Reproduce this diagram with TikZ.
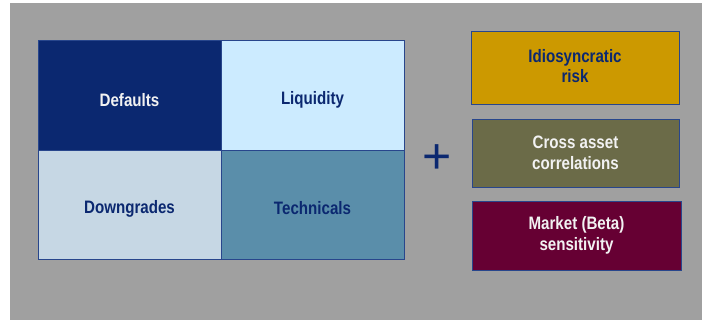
\documentclass[tikz,border=0pt]{standalone}
\usepackage{fontspec}
\setmainfont{Liberation Sans}[FakeStretch=0.84]
\newfontfamily\plusfont{Liberation Sans}
\definecolor{bggray}{RGB}{160,160,160}
\definecolor{navy}{RGB}{11,40,112}
\definecolor{edge}{RGB}{40,70,140}
\definecolor{liqblue}{RGB}{204,235,255}
\definecolor{dgblue}{RGB}{198,215,228}
\definecolor{techblue}{RGB}{90,142,170}
\definecolor{gold}{RGB}{204,153,0}
\definecolor{olive}{RGB}{107,107,72}
\definecolor{wine}{RGB}{102,0,51}
\definecolor{paletext}{RGB}{242,242,242}
\begin{document}
\begin{tikzpicture}[x=1pt,y=-1pt,
  cell/.style={draw=edge, line width=0.9pt, inner sep=0pt},
  lbl/.style={font=\fontsize{18}{20.5}\selectfont\bfseries, align=center, inner sep=0pt},
  darklbl/.style={lbl, text=paletext},
  navylbl/.style={lbl, text=navy}]
  \useasboundingbox (0,0) rectangle (702,320);
  % backdrop
  \fill[bggray] (10,3) rectangle (702,320);

  % 2x2 grid of risk drivers
  \node[cell, fill=navy, minimum width=183pt, minimum height=110pt] (defaults) at (129.5,95) {};
  \node[cell, fill=liqblue, minimum width=183pt, minimum height=110pt] (liquidity) at (312.5,95) {};
  \node[cell, fill=dgblue, minimum width=183pt, minimum height=109pt] (downgrades) at (129.5,204.5) {};
  \node[cell, fill=techblue, minimum width=183pt, minimum height=109pt] (technicals) at (312.5,204.5) {};

  \node[darklbl] (tdefaults) at ([yshift=-5pt]defaults.center) {Defaults};
  \node[navylbl] (tliquidity) at ([yshift=-5pt]liquidity.center) {Liquidity};
  \node[navylbl] (tdowngrades) at ([yshift=-4pt]downgrades.center) {Downgrades};
  \node[navylbl] (ttechnicals) at ([yshift=-4pt]technicals.center) {Technicals};

  % plus sign
  \node[anchor=base, inner sep=0pt, text=navy, font=\plusfont\fontsize{50}{50}\selectfont] (plus) at (437,174) {+};

  % additional risk factors
  \node[cell, fill=gold, minimum width=208pt, minimum height=73pt] (idio) at (575,67.5) {};
  \node[navylbl] (tidio) at ([yshift=1.5pt]idio.center) {Idiosyncratic\\risk};
  \node[cell, fill=olive, minimum width=207pt, minimum height=68pt] (cross) at (575.5,153) {};
  \node[darklbl] (tcross) at (cross.center) {Cross asset\\correlations};
  \node[cell, fill=wine, minimum width=209pt, minimum height=69pt] (market) at (576.5,235.5) {};
  \node[darklbl] (tmarket) at (market.center) {Market (Beta)\\sensitivity};
\end{tikzpicture}
\end{document}
